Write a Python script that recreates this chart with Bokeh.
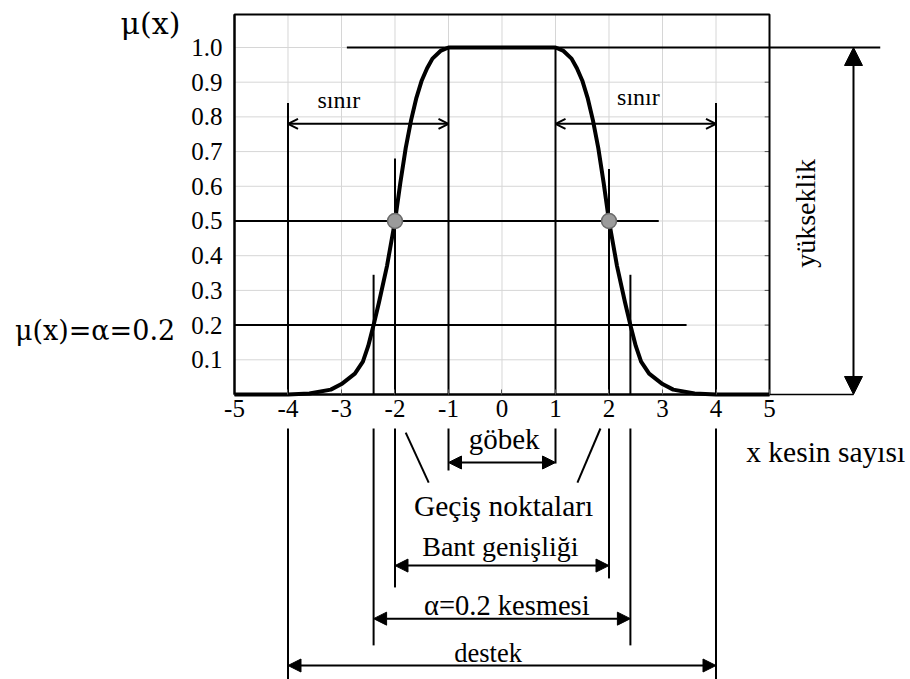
from bokeh.plotting import figure
from bokeh.models import (Range1d, LinearAxis, FixedTicker, PrintfTickFormatter,
                          Arrow, NormalHead, OpenHead)
from bokeh.core.properties import value
from bokeh.embed import file_html
from bokeh.resources import INLINE

# Membership function of the fuzzy set
curve_x = [-5.0, -4.0, -3.6, -3.2, -3.0, -2.75, -2.6, -2.5, -2.4, -2.3, -2.15, -2.0,
           -1.9, -1.8, -1.7, -1.6, -1.5, -1.4, -1.3, -1.15, -1.0,
           1.0, 1.15, 1.3, 1.4, 1.5, 1.6, 1.7, 1.8, 1.9,
           2.0, 2.15, 2.3, 2.4, 2.5, 2.6, 2.75, 3.0, 3.2, 3.6, 4.0, 5.0]
curve_mu = [0.0, 0.0, 0.003, 0.014, 0.03, 0.06, 0.095, 0.14, 0.2, 0.265, 0.37, 0.5,
            0.61, 0.71, 0.79, 0.855, 0.905, 0.94, 0.968, 0.99, 1.0,
            1.0, 0.99, 0.968, 0.94, 0.905, 0.855, 0.79, 0.71, 0.61,
            0.5, 0.37, 0.265, 0.2, 0.14, 0.095, 0.06, 0.03, 0.014, 0.003, 0.0, 0.0]

# Characteristic points of the set
core = [-1.0, 1.0]           # göbek
crossover = [-2.0, 2.0]      # geçiş noktaları
crossover_mu = 0.5
alpha_level = 0.2
alpha_cut = [-2.4, 2.4]      # α-kesmesi
support = [-4.0, 4.0]        # destek
height = 1.0                 # yükseklik

x_ticks = [-5, -4, -3, -2, -1, 0, 1, 2, 3, 4, 5]
y_ticks = [0.1, 0.2, 0.3, 0.4, 0.5, 0.6, 0.7, 0.8, 0.9, 1.0]

SERIF = value("Liberation Serif")
MATH = value("DejaVu Serif")
INK = "black"

p = figure(width=910, height=679,
           x_range=Range1d(-9.3738, 7.6355), y_range=Range1d(-0.8213, 1.1354),
           output_backend="svg", toolbar_location=None,
           x_axis_type=None, y_axis_type=None, min_border=0,
           outline_line_color=None, background_fill_color="white")

x_lo, x_hi = x_ticks[0], x_ticks[-1]
y_top = 1.095

# light grid inside the frame
inner_x = x_ticks[1:-1]
p.segment(x0=inner_x, y0=[0] * len(inner_x), x1=inner_x, y1=[y_top] * len(inner_x),
          line_color="#d6d6d6", line_width=1)
p.segment(x0=[x_lo] * len(y_ticks), y0=y_ticks, x1=[x_hi] * len(y_ticks), y1=y_ticks,
          line_color="#d6d6d6", line_width=1)
# small inward ticks on the right edge
p.segment(x0=[x_hi - 0.09] * len(y_ticks), y0=y_ticks, x1=[x_hi] * len(y_ticks), y1=y_ticks,
          line_color="#555555", line_width=1)

# frame
p.quad(left=x_lo, right=x_hi, bottom=0, top=y_top, fill_color=None,
       line_color=INK, line_width=2)

# axes drawn at the frame edges
xaxis = LinearAxis(fixed_location=0, ticker=FixedTicker(ticks=x_ticks),
                   formatter=PrintfTickFormatter(format="%d"), bounds=(x_lo, x_hi))
yaxis = LinearAxis(fixed_location=x_lo, ticker=FixedTicker(ticks=y_ticks),
                   formatter=PrintfTickFormatter(format="%.1f"), bounds=(0, y_top))
for ax in (xaxis, yaxis):
    ax.axis_line_color = INK
    ax.axis_line_width = 2
    ax.minor_tick_line_color = None
    ax.major_label_text_font = "Liberation Serif"
    ax.major_label_text_font_size = "25px"
    ax.major_label_text_color = INK
xaxis.major_tick_in = 5
xaxis.major_tick_out = 0
xaxis.major_tick_line_color = "#555555"
xaxis.major_label_standoff = 6
yaxis.major_tick_in = 0
yaxis.major_tick_out = 0
yaxis.major_label_standoff = 12
p.add_layout(xaxis, "below")
p.add_layout(yaxis, "left")

# horizontal guide lines: height, crossover level, alpha level
p.segment(x0=[-2.9, x_lo, x_lo], y0=[height, crossover_mu, alpha_level],
          x1=[7.07, 2.93, 3.45], y1=[height, crossover_mu, alpha_level],
          line_color=INK, line_width=2)
# baseline continued to the height arrow
p.segment(x0=[x_hi], y0=[0], x1=[6.57], y1=[0], line_color=INK, line_width=1.5)

# vertical guide lines above the axis
up_x = [support[0], support[1], core[0], core[1], crossover[0], crossover[1], alpha_cut[0], alpha_cut[1]]
up_top = [0.84, 0.84, height, height, 0.68, 0.65, 0.345, 0.345]
p.segment(x0=up_x, y0=[0] * len(up_x), x1=up_x, y1=up_top, line_color=INK, line_width=2)

# vertical guide lines below the tick labels
dn_bottom = [-0.82, -0.82, -0.219, -0.199, -0.556, -0.53, -0.723, -0.723]
p.segment(x0=up_x, y0=[-0.098] * len(up_x), x1=up_x, y1=dn_bottom, line_color=INK, line_width=2)

# pointers to the crossover points
p.segment(x0=[-1.80, 1.84], y0=[-0.110, -0.098], x1=[-1.37, 1.41], y1=[-0.254, -0.254],
          line_color=INK, line_width=2)

# membership curve
p.line(curve_x, curve_mu, line_color=INK, line_width=4, line_join="round")

# crossover markers
p.scatter(crossover, [crossover_mu] * 2, size=15, fill_color="#9b9b9b",
          line_color="#6a6a6a", line_width=1.5)


def dbl_arrow(x0, y0, x1, y1, head):
    p.add_layout(Arrow(start=head(), end=head(), x_start=x0, y_start=y0,
                       x_end=x1, y_end=y1, line_color=INK, line_width=2))


def open_head():
    return OpenHead(size=10, line_width=2, line_color=INK)


def filled_head():
    return NormalHead(size=13, fill_color=INK, line_color=INK)


def big_head():
    return NormalHead(size=18, fill_color=INK, line_color=INK)


# sınır (boundaries)
dbl_arrow(support[0], 0.78, core[0], 0.78, open_head)
dbl_arrow(core[1], 0.78, support[1], 0.78, open_head)
# yükseklik (height)
dbl_arrow(6.57, height, 6.57, 0.0, big_head)
# göbek, bant genişliği, alpha cut, destek
dbl_arrow(core[0], -0.196, core[1], -0.196, filled_head)
dbl_arrow(crossover[0], -0.493, crossover[1], -0.493, filled_head)
dbl_arrow(alpha_cut[0], -0.646, alpha_cut[1], -0.646, filled_head)
dbl_arrow(support[0], -0.781, support[1], -0.781, filled_head)


def label(x, y, txt, size, font=SERIF, angle=0.0):
    p.text(x=[x], y=[y], text=[txt], text_font=font, text_font_size=value(size),
           text_align="center", text_baseline="middle", text_color=INK, angle=angle)


label(-3.05, 0.85, "sınır", "24px")
label(2.55, 0.857, "sınır", "24px")
label(0.04, -0.127, "göbek", "29px")
label(0.03, -0.32, "Geçiş noktaları", "29.5px")
label(-0.03, -0.438, "Bant genişliği", "28px")
label(0.09, -0.608, "α=0.2 kesmesi", "28.5px")
label(-0.26, -0.746, "destek", "26.5px")
label(6.05, -0.167, "x kesin sayısı", "29.5px")
label(5.67, 0.522, "yükseklik", "28px", angle=1.5708)
label(-6.57, 1.069, "μ(x)", "30px", font=MATH)
label(-7.607, 0.184, "μ(x)=α=0.2", "27px", font=MATH)

open("out.html", "w").write(file_html(p, INLINE))
